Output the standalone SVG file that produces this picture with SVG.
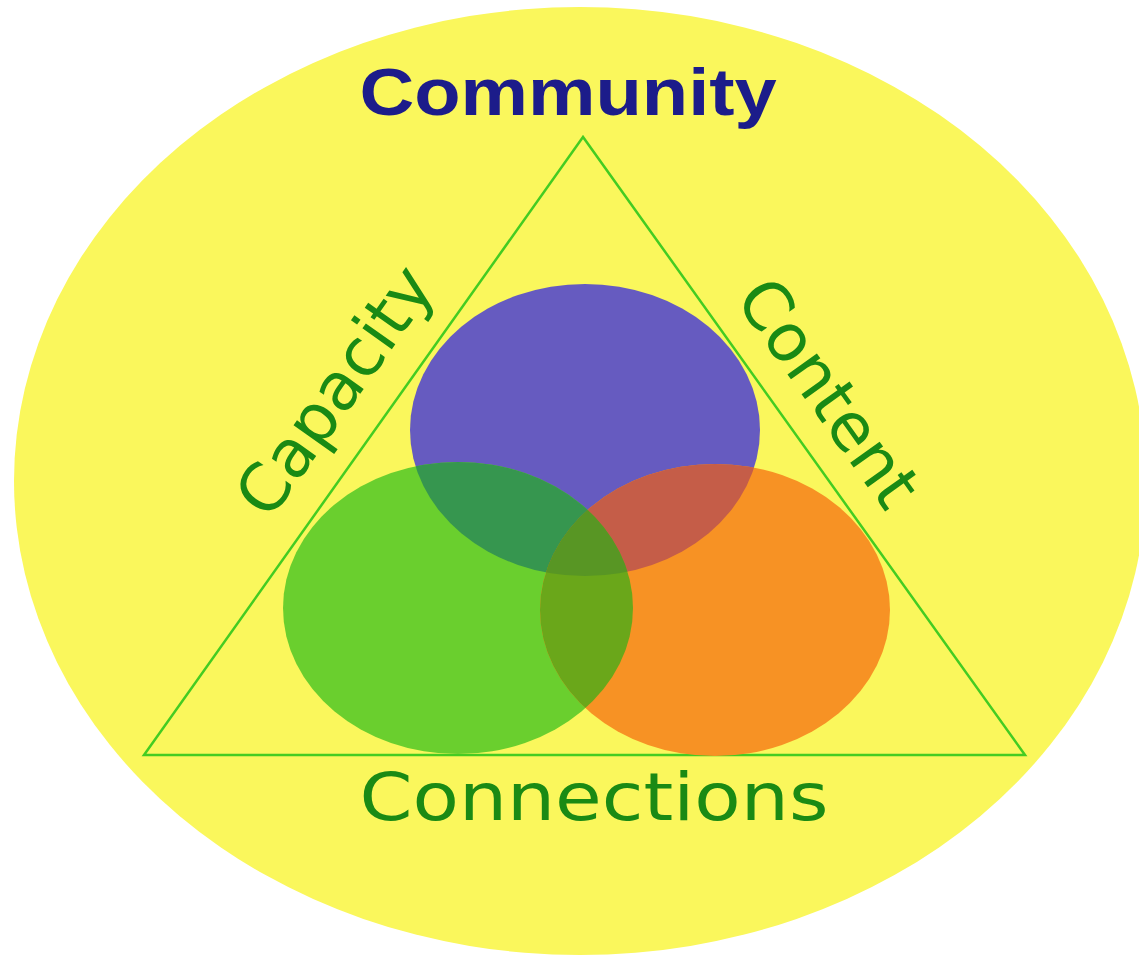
<svg xmlns="http://www.w3.org/2000/svg" width="1139" height="957" viewBox="0 0 1139 957">
<style>
.lbl{font-family:"DejaVu Sans",sans-serif;font-size:66px;fill:#1a8a14}
.title{font-family:"Liberation Sans",Arial,sans-serif;font-weight:bold;font-size:66px;fill:#1c1c8a}
</style>
<defs>
<clipPath id="cPurple"><ellipse cx="585" cy="430" rx="175" ry="146"/></clipPath>
<clipPath id="cGreen"><ellipse cx="458" cy="608" rx="175" ry="146"/></clipPath>
</defs>
<rect width="1139" height="957" fill="#ffffff"/>
<g id="background"><ellipse cx="580" cy="481" rx="566" ry="474" fill="#faf75c"/></g>
<g id="triangle"><polygon points="583,137 144,755 1025,755" fill="none" stroke="#44cc22" stroke-width="2.5" stroke-linejoin="miter"/></g>
<g id="purple"><ellipse cx="585" cy="430" rx="175" ry="146" fill="#665bc0"/></g>
<g id="green"><ellipse cx="458" cy="608" rx="175" ry="146" fill="#6acf2e"/></g>
<g id="orange"><ellipse cx="715" cy="610" rx="175" ry="146" fill="#f79224"/></g>
<g id="overlaps">
<g clip-path="url(#cPurple)"><ellipse cx="458" cy="608" rx="175" ry="146" fill="#36964f"/></g>
<g clip-path="url(#cPurple)"><ellipse cx="715" cy="610" rx="175" ry="146" fill="#c55d48"/></g>
<g clip-path="url(#cGreen)"><ellipse cx="715" cy="610" rx="175" ry="146" fill="#6aa71a"/></g>
<g clip-path="url(#cPurple)"><g clip-path="url(#cGreen)"><ellipse cx="715" cy="610" rx="175" ry="146" fill="#589624"/></g></g>
</g>
<g id="community"><text class="title" transform="scale(1.15,1)" x="494" y="115" text-anchor="middle">Community</text></g>
<g id="capacity" transform="translate(353,404) rotate(-54.6)"><text class="lbl" x="0" y="0" text-anchor="middle">Capacity</text></g>
<g id="content" transform="translate(810,406) rotate(54.55)"><text class="lbl" x="0" y="0" text-anchor="middle">Content</text></g>
<g id="connections"><text class="lbl" transform="scale(1.15,1)" x="516.5" y="820" text-anchor="middle">Connections</text></g>
</svg>
